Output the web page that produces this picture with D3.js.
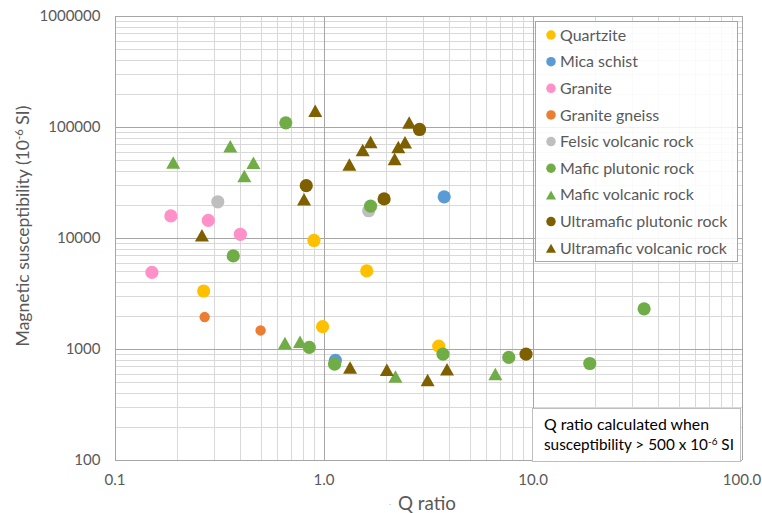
<!DOCTYPE html>
<html><head><meta charset="utf-8">
<script src="https://cdn.jsdelivr.net/npm/d3@7/dist/d3.min.js"></script>
<style>body{margin:0;background:#fff}svg{display:block}</style>
</head><body><svg id="c" width="762" height="513"></svg>
<script>
// ---- data: [Q ratio, susceptibility (10^-6 SI)] ----
const quartzite = [[0.90,9500],[1.61,5050],[0.267,3330],[0.99,1590],[3.56,1060]];
const micaSchist = [[3.78,23500],[1.14,790]];
const granite = [[0.186,15800],[0.281,14400],[0.40,10800],[0.151,4900]];
const graniteGneiss = [[0.270,1940],[0.50,1470]];
const felsicVolcanic = [[0.312,21200],[1.645,17600]];
const maficPlutonic = [[0.66,109000],[1.68,19400],[0.37,6900],[0.855,1035],[1.13,730],[3.73,900],[7.7,840],[34.2,2300],[18.8,740]];
const maficVolcanic = [[0.191,48000],[0.358,67000],[0.462,47700],[0.418,36200],[0.654,1130],[0.772,1160],[2.21,565],[6.64,595]];
const ultramaficPlutonic = [[0.827,29600],[2.88,95000],[1.95,22500],[9.31,900]];
const ultramaficVolcanic = [[0.913,140000],[0.262,10600],[0.807,22300],[1.33,46000],[1.54,62000],[1.68,73300],[2.57,110000],[2.28,66000],[2.455,72800],[2.19,51500],[1.34,680],[2.01,650],[3.15,526],[3.90,656]];

const seriesNames = ["Quartzite","Mica schist","Granite","Granite gneiss","Felsic volcanic rock","Mafic plutonic rock","Mafic volcanic rock","Ultramafic plutonic rock","Ultramafic volcanic rock"];
const seriesData = [quartzite,micaSchist,granite,graniteGneiss,felsicVolcanic,maficPlutonic,maficVolcanic,ultramaficPlutonic,ultramaficVolcanic];
const seriesColors = ["#FFC000","#5B9BD5","#FF91C8","#ED7D31","#BFBFBF","#70AD47","#70AD47","#7F6000","#7F6000"];
const seriesShapes = ["circle","circle","circle","smallcircle","circle","circle","triangle","circle","triangle"];

const xTicks = [0.1,1,10,100];
const yTicks = [100,1000,10000,100000,1000000];
const xTitle = "Q ratio";
const noteLines = ["Q ratio calculated when","susceptibility > 500 x 10","-6"," SI"];

// ---- layout ----
const svg = d3.select("#c");
const FONT = "Lato, 'Open Sans', sans-serif";
const TXT = "#595959";
const L = 114.5, R = 741.5, T = 16, B = 460;
const x = d3.scaleLog().domain([0.1,100]).range([L,R]);
const y = d3.scaleLog().domain([100,1e6]).range([B,T]);

// grid
const minorX = [], minorY = [];
[0.1,1,10].forEach(d => { for (let k=2;k<=9;k++) minorX.push(k*d); });
[100,1000,10000,100000].forEach(d => { for (let k=2;k<=9;k++) minorY.push(k*d); });
const g = svg.append("g").attr("shape-rendering","crispEdges");
g.selectAll(".mx").data(minorX).join("line").attr("x1",d=>Math.round(x(d))+0.5).attr("x2",d=>Math.round(x(d))+0.5).attr("y1",T).attr("y2",B).attr("stroke","#d9d9d9");
g.selectAll(".my").data(minorY).join("line").attr("y1",d=>Math.round(y(d))+0.5).attr("y2",d=>Math.round(y(d))+0.5).attr("x1",L).attr("x2",R).attr("stroke","#d9d9d9");
g.selectAll(".Mx").data(xTicks).join("line").attr("x1",d=>Math.round(x(d))+0.5).attr("x2",d=>Math.round(x(d))+0.5).attr("y1",T).attr("y2",B).attr("stroke","#a6a6a6");
g.selectAll(".My").data(yTicks).join("line").attr("y1",d=>Math.round(y(d))+0.5).attr("y2",d=>Math.round(y(d))+0.5).attr("x1",L).attr("x2",R).attr("stroke","#a6a6a6");

// axes
const xAxis = svg.append("g").attr("transform",`translate(0,${B})`)
  .call(d3.axisBottom(x).tickValues(xTicks).tickFormat(d3.format(".1f")).tickSize(0).tickPadding(14));
const yAxis = svg.append("g").attr("transform",`translate(${L},0)`)
  .call(d3.axisLeft(y).tickValues(yTicks).tickFormat(d3.format("d")).tickSize(0).tickPadding(14));
[xAxis,yAxis].forEach(a => { a.select(".domain").remove(); a.selectAll("text").attr("font-family",FONT).attr("font-size",15).attr("fill",TXT); });

// fit font size helper
function fit(sel, target){ const w = sel.node().getComputedTextLength(); const fs = +sel.attr("font-size"); sel.attr("font-size", fs*target/w); return fs*target/w; }
const tickFs = fit(yAxis.selectAll("text").filter(d=>d===1000000), 61);
yAxis.selectAll("text").attr("font-size",tickFs);
xAxis.selectAll("text").attr("font-size",tickFs);

// axis titles
const xt = svg.append("text").attr("x",427).attr("y",510).attr("text-anchor","middle").attr("font-family",FONT).attr("font-size",17).attr("fill",TXT).text(xTitle);
fit(xt,58);
svg.append("text").attr("x",390).attr("y",506).attr("text-anchor","middle").attr("font-family",FONT).attr("font-size",6).attr("fill","#999").text("·");
const yt = svg.append("text").attr("transform","translate(29,226) rotate(-90)").attr("text-anchor","middle").attr("font-family",FONT).attr("font-size",17).attr("fill",TXT);
yt.append("tspan").text("Magnetic susceptibility (10");
yt.append("tspan").attr("dy",-6).attr("font-size",11).text("-6");
yt.append("tspan").attr("dy",6).text(" SI)");
{ const w = yt.node().getBBox().width; const s = 241/w; yt.attr("font-size",17*s); yt.selectAll("tspan").filter((d,i)=>i===1).attr("font-size",11*s); }

// markers
function triPath(w,h){ return `M${-w/2},${h/2}L${w/2},${h/2}L0,${-h/2}Z`; }
function drawMarker(sel, shape, color, scale){
  if (shape==="triangle") sel.append("path").attr("d",triPath(14*scale,12.5*scale)).attr("fill",color);
  else sel.append("circle").attr("r",(shape==="smallcircle"?5.2:6.6)*scale).attr("fill",color);
}
seriesData.forEach((data,i) => {
  const sg = svg.append("g");
  data.forEach(p => {
    const m = sg.append("g").attr("transform",`translate(${x(p[0])},${y(p[1])})`);
    drawMarker(m, seriesShapes[i], seriesColors[i], 1);
  });
});

// legend
const lg = svg.append("g");
lg.append("rect").attr("x",535.5).attr("y",21.5).attr("width",202).attr("height",240).attr("fill","#fff").attr("fill-opacity",0.85).attr("stroke","#a6a6a6");
seriesNames.forEach((n,i) => {
  const yy = 35 + i*26.65;
  const m = lg.append("g").attr("transform",`translate(551,${yy})`);
  drawMarker(m, seriesShapes[i]==="smallcircle"?"circle":seriesShapes[i], seriesColors[i], 0.72);
  lg.append("text").attr("class","lt").attr("x",560).attr("y",yy).attr("dy","0.35em").attr("font-family",FONT).attr("font-size",15).attr("fill",TXT).text(n);
});
const lfs = fit(lg.selectAll(".lt").filter((d,i,n)=>n[i].textContent==="Ultramafic volcanic rock"),167);
lg.selectAll(".lt").attr("font-size",lfs);

// note box
const nb = svg.append("g");
nb.append("rect").attr("x",532.5).attr("y",408.5).attr("width",208).attr("height",53).attr("fill","#fff").attr("stroke","#bfbfbf");
const n1 = nb.append("text").attr("x",544).attr("y",424).attr("dy","0.35em").attr("font-family",FONT).attr("font-size",lfs).attr("fill","#000").text(noteLines[0]);
fit(n1,165);
const n2 = nb.append("text").attr("x",544).attr("y",445).attr("dy","0.35em").attr("font-family",FONT).attr("font-size",lfs).attr("fill","#000");
n2.append("tspan").text(noteLines[1]);
n2.append("tspan").attr("dy",-5).attr("font-size",lfs*0.65).text(noteLines[2]);
n2.append("tspan").attr("dy",5).text(noteLines[3]);
{ const w = n2.node().getBBox().width; const s = 190/w; n2.attr("font-size",lfs*s); n2.selectAll("tspan").filter((d,i)=>i===1).attr("font-size",lfs*0.65*s); }
</script></body></html>
